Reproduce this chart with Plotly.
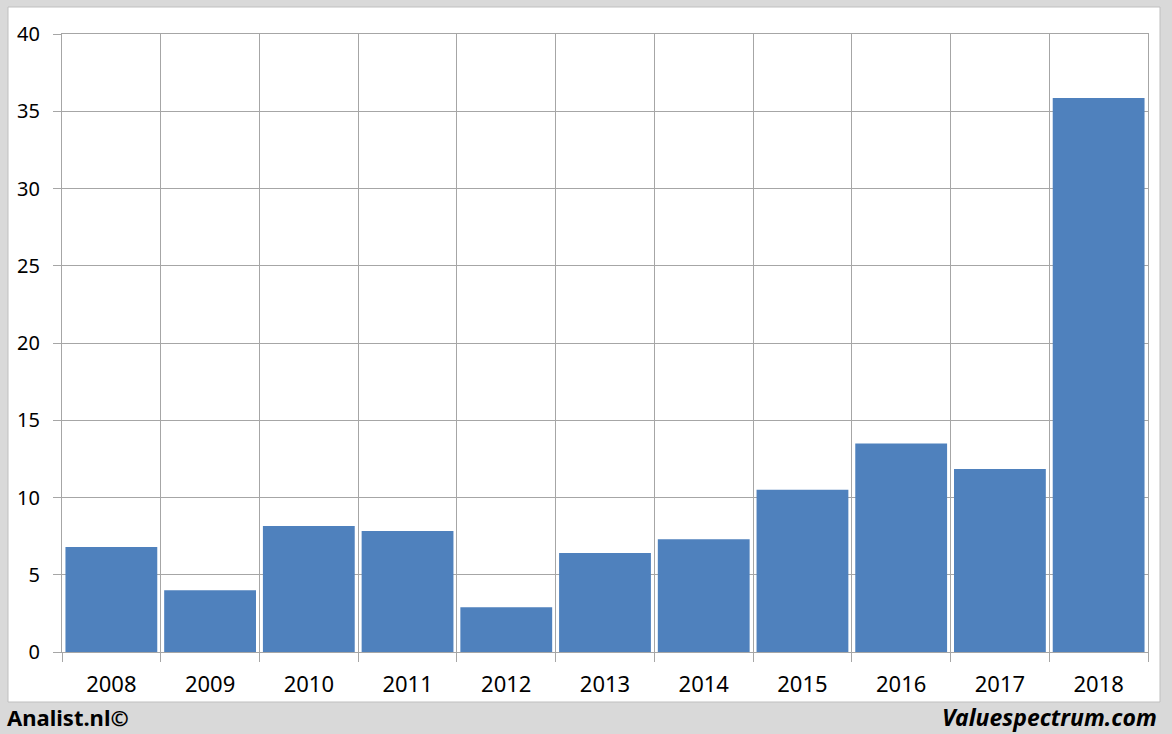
import plotly.graph_objects as go

years = ["2008", "2009", "2010", "2011", "2012", "2013", "2014", "2015", "2016", "2017", "2018"]
values = [6.8, 4.0, 8.15, 7.83, 2.9, 6.4, 7.3, 10.5, 13.5, 11.85, 35.86]
y_ticks = [0, 5, 10, 15, 20, 25, 30, 35, 40]

W, H = 1172, 734
L, R, T, B = 62, 24, 34, 82
pw, ph = W - L - R, H - T - B

def px_x(x):
    return (x - L) / pw

def px_y(y):
    return (H - B - y) / ph

font = "Noto Sans, Open Sans, sans-serif"
n = len(years)
pos = list(range(n))
bounds = [i - 0.5 for i in range(n + 1)]

fig = go.Figure()
fig.add_trace(go.Bar(x=pos, y=values, marker_color="#4f81bd", marker_line_width=0, xaxis="x", yaxis="y"))
fig.add_trace(go.Scatter(x=pos, y=[None] * n, xaxis="x2", yaxis="y", showlegend=False, hoverinfo="skip"))

fig.update_layout(
    width=W, height=H,
    margin=dict(l=L, r=R, t=T, b=B),
    paper_bgcolor="#d9d9d9",
    plot_bgcolor="white",
    bargap=0.07,
    showlegend=False,
    xaxis=dict(range=[-0.5, n - 0.5], tickvals=bounds, ticktext=[""] * len(bounds),
               showgrid=True, gridcolor="#a6a6a6", gridwidth=1,
               ticks="outside", ticklen=9, tickcolor="#a6a6a6",
               showline=True, linecolor="#a6a6a6", mirror=True, zeroline=False),
    xaxis2=dict(range=[-0.5, n - 0.5], overlaying="x", side="bottom", tickvals=pos, ticktext=years,
                showgrid=False, ticks="", showline=False, zeroline=False,
                tickfont=dict(family=font, size=22, color="#000"), ticklabelstandoff=17),
    yaxis=dict(range=[0, 40], tickvals=y_ticks, showgrid=True, gridcolor="#a6a6a6", gridwidth=1,
               ticks="outside", ticklen=8, tickcolor="#a6a6a6",
               showline=True, linecolor="#a6a6a6", mirror=True, zeroline=False,
               tickfont=dict(family=font, size=20, color="#000"), ticklabelstandoff=9),
    shapes=[dict(type="rect", xref="paper", yref="paper",
                 x0=px_x(8), x1=px_x(1160), y0=px_y(702), y1=px_y(7),
                 fillcolor="white", line=dict(color="#bfbfbf", width=1), layer="below")],
    annotations=[
        dict(text="<b>Analist.nl©</b>", xref="paper", yref="paper", x=px_x(5), y=px_y(717),
             xanchor="left", yanchor="middle", showarrow=False,
             font=dict(family=font, size=22, color="#000")),
        dict(text="<b><i>Valuespectrum.com</i></b>", xref="paper", yref="paper", x=px_x(1159), y=px_y(717),
             xanchor="right", yanchor="middle", showarrow=False,
             font=dict(family=font, size=23, color="#000")),
    ],
)

fig.write_html("out.html", config={"displayModeBar": False},
               post_script="document.body.style.margin='0';document.body.style.overflow='hidden';")
